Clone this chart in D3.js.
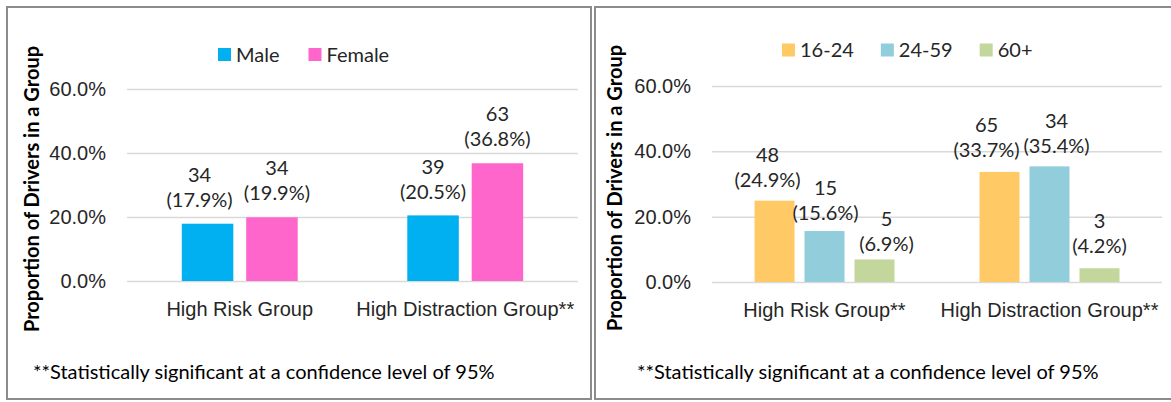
<!DOCTYPE html>
<html>
<head>
<meta charset="utf-8">
<script src="https://cdn.jsdelivr.net/npm/d3@7"></script>
<style>
  body { margin: 0; background: #fff; }
  svg { display: block; font-family: Lato, "Open Sans", sans-serif; }
  .tick text { fill: #262626; }
</style>
</head>
<body>
<svg id="chart" width="1171" height="402"></svg>
<script>
// data
const genderGroups = ['High Risk Group', 'High Distraction Group**']
const genderSeries = ['Male', 'Female']
const malePct = [17.9, 20.5]
const maleCount = [34, 39]
const femalePct = [19.9, 36.8]
const femaleCount = [34, 63]

const ageGroups = ['High Risk Group**', 'High Distraction Group**']
const ageSeries = ['16-24', '24-59', '60+']
const age1624Pct = [24.9, 33.7]
const age1624Count = [48, 65]
const age2459Pct = [15.6, 35.4]
const age2459Count = [15, 34]
const age60Pct = [6.9, 4.2]
const age60Count = [5, 3]

const yTicks = [0, 20, 40, 60]
const yTitle = 'Proportion of Drivers in a Group'
const footnote = '**Statistically significant at a confidence level of 95%'

// label nudges (the source placed a few labels by hand) [dx, dy] per group
const genderNudge = { Male: [[-8, 0], [0, 1]], Female: [[5, 0], [0, 0]] }
const ageNudge = {
	'16-24': [[-7, 0], [-13, -1]],
	'24-59': [[1, 3], [7, 1]],
	'60+': [[12, 6], [0, -1]],
}

const svg = d3.select('#chart')
const fontSize = 20

svg.append('rect').attr('width', 1171).attr('height', 402).attr('fill', '#fff')

const drawPanel = ({ box, plot, groups, series, pct, count, colors, nudge, labelDy, legend, spanFrac, titleX, noteX }) => {

	const g = svg.append('g')

	// frame
	g.append('rect')
		.attr('x', box.x).attr('y', box.y)
		.attr('width', box.w).attr('height', box.h)
		.attr('fill', 'none')
		.attr('stroke', '#8c8c8c')
		.attr('stroke-width', 2)

	const y = d3.scaleLinear().domain([0, 60]).range([plot.bottom, plot.top])
	const x0 = d3.scaleBand().domain(groups).range([plot.left, plot.right])
	const span = x0.bandwidth() * spanFrac
	const x1 = d3.scaleBand().domain(series).range([0, span]).paddingInner(0.2)
	const off = (x0.bandwidth() - span) / 2

	// gridlines + y labels
	g.append('g')
		.attr('transform', `translate(${plot.left},0)`)
		.call(d3.axisLeft(y)
			.tickValues(yTicks)
			.tickSize(-(plot.right - plot.left))
			.tickPadding(21)
			.tickFormat(d => d.toFixed(1) + '%'))
		.call(a => a.select('.domain').remove())
		.call(a => a.selectAll('.tick line').attr('stroke', '#d9d9d9').attr('stroke-width', 1.5))
		.call(a => a.selectAll('.tick text').attr('font-size', fontSize).attr('font-family', null))

	// category labels
	g.append('g')
		.attr('transform', `translate(0,${plot.bottom})`)
		.call(d3.axisBottom(x0).tickSize(0).tickPadding(21))
		.call(a => a.select('.domain').remove())
		.call(a => a.selectAll('.tick text').attr('font-size', fontSize).attr('font-family', null))

	// bars
	series.forEach((s, si) => {
		const bars = groups.map((grp, gi) => ({ grp, gi, v: pct[si][gi], n: count[si][gi] }))
		const sel = g.append('g').selectAll('g').data(bars).join('g')

		sel.append('rect')
			.attr('x', d => x0(d.grp) + off + x1(s))
			.attr('y', d => y(d.v))
			.attr('width', x1.bandwidth())
			.attr('height', d => y(0) - y(d.v))
			.attr('fill', colors[si])

		const lbl = sel.append('text')
			.attr('text-anchor', 'middle')
			.attr('font-size', fontSize)
			.attr('fill', '#262626')
			.attr('transform', d => {
				const [dx, dy] = nudge[s][d.gi]
				return `translate(${x0(d.grp) + off + x1(s) + x1.bandwidth() / 2 + dx},${y(d.v) + dy + labelDy})`
			})
		lbl.append('tspan').attr('x', 0).attr('y', -42).text(d => d.n)
		lbl.append('tspan').attr('x', 0).attr('y', -17).text(d => `(${d.v.toFixed(1)}%)`)
	})

	// legend
	const lg = g.append('g').attr('transform', `translate(${legend.x},${legend.y})`)
	let lx = 0
	series.forEach((s, si) => {
		lg.append('rect').attr('x', lx).attr('y', -6.5).attr('width', 13).attr('height', 13).attr('fill', colors[si])
		const t = lg.append('text')
			.attr('x', lx + 18).attr('y', 7)
			.attr('font-size', fontSize)
			.attr('fill', '#262626')
			.text(s)
		lx += 18 + t.node().getComputedTextLength() + legend.gap
	})

	// axis title
	g.append('text')
		.attr('transform', `translate(${titleX},${(plot.top + plot.bottom) / 2 + 4}) rotate(-90)`)
		.attr('text-anchor', 'middle')
		.attr('font-size', fontSize)
		.attr('font-weight', 'bold')
		.attr('fill', '#000')
		.text(yTitle)

	// footnote
	g.append('text')
		.attr('x', noteX).attr('y', 379)
		.attr('font-size', fontSize)
		.attr('fill', '#000')
		.text(footnote)
}

drawPanel({
	box: { x: 7, y: 7, w: 584, h: 392 },
	plot: { left: 127, right: 578, top: 89, bottom: 281 },
	groups: genderGroups,
	series: genderSeries,
	pct: [malePct, femalePct],
	count: [maleCount, femaleCount],
	colors: ['#00b0f0', '#ff66cc'],
	nudge: genderNudge,
	labelDy: 0,
	legend: { x: 218, y: 54.5, gap: 29 },
	spanFrac: 0.514,
	titleX: 39,
	noteX: 33,
})

drawPanel({
	box: { x: 595, y: 7, w: 590, h: 392 },
	plot: { left: 712, right: 1162, top: 86, bottom: 282 },
	groups: ageGroups,
	series: ageSeries,
	pct: [age1624Pct, age2459Pct, age60Pct],
	count: [age1624Count, age2459Count, age60Count],
	colors: ['#ffca66', '#92cddc', '#c3d69b'],
	nudge: ageNudge,
	labelDy: 3,
	legend: { x: 782, y: 50, gap: 27 },
	spanFrac: 0.622,
	titleX: 622,
	noteX: 637,
})
</script>
</body>
</html>
